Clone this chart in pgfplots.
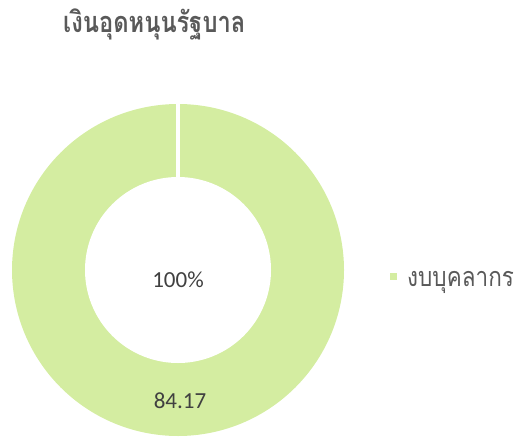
\documentclass[border=0pt]{standalone}
\usepackage{pgfplots}
\pgfplotsset{compat=1.18}
\usepackage{pgfplotstable}
\usepackage{graphicx}
\usepackage{fontspec}
\setmainfont{Carlito}
\newfontfamily\thaifont[Script=Thai]{Loma}
\definecolor{ringgreen}{HTML}{D4EDA1}
\definecolor{titlegray}{HTML}{595959}
\definecolor{textgray}{HTML}{404040}
% one slice: label, value, share (percent)
\pgfplotstableread{
label value share
A 84.17 100
}\slices
\pgfplotstablegetelem{0}{share}\of\slices
\let\sliceshare\pgfplotsretval
\pgfplotstablegetelem{0}{value}\of\slices
\let\slicevalue\pgfplotsretval
\begin{document}
\begin{tikzpicture}[x=1pt,y=1pt]
\path[use as bounding box] (0,0) rectangle (518,437);
\begin{axis}[
  at={(0,0)}, anchor=south west,
  width=518pt, height=437pt, scale only axis,
  xmin=0, xmax=518, ymin=0, ymax=437,
  hide axis, clip=false,
  legend style={at={(axis cs:390,157)}, anchor=west, draw=none, fill=none,
    font=\thaifont\fontsize{22.5}{26}\selectfont, text=titlegray,
    inner sep=0pt, row sep=0pt},
  legend cell align=left,
]
% outer disc of the single slice, sweep = 3.6 * share degrees clockwise from 12 o'clock
\addplot[fill=ringgreen, draw=none, domain=0:3.6*\sliceshare, samples=241,
  legend image code/.code={\fill[ringgreen] (0pt,0pt) rectangle (7pt,7pt); \path (15pt,0pt);}]
  ({178+166*cos(90-x)},{167+166*sin(90-x)}) -- (axis cs:178,167) -- cycle;
\addlegendentry{\scalebox{1}[1.2]{งบบุคลากร}}
% hole of the doughnut
\addplot[fill=white, draw=none, domain=0:360, samples=241, forget plot]
  ({178+93*cos(x)},{167+93*sin(x)}) -- cycle;
% white slice border at start/end
\addplot[white, line width=4.5pt, forget plot] coordinates {(178,255) (178,337)};
\node[font=\fontsize{23}{26}\selectfont, text=textgray] at (axis cs:178,157.5) {\sliceshare\%};
\node[font=\fontsize{23}{26}\selectfont, text=textgray] at (axis cs:180,36.5) {\slicevalue};
\node[font=\thaifont\bfseries\fontsize{23.7}{28}\selectfont, text=titlegray, anchor=base west, inner sep=0pt] at (axis cs:63,404) {\scalebox{1}[1.22]{เงินอุดหนุนรัฐบาล}};
\end{axis}
\end{tikzpicture}
\end{document}
